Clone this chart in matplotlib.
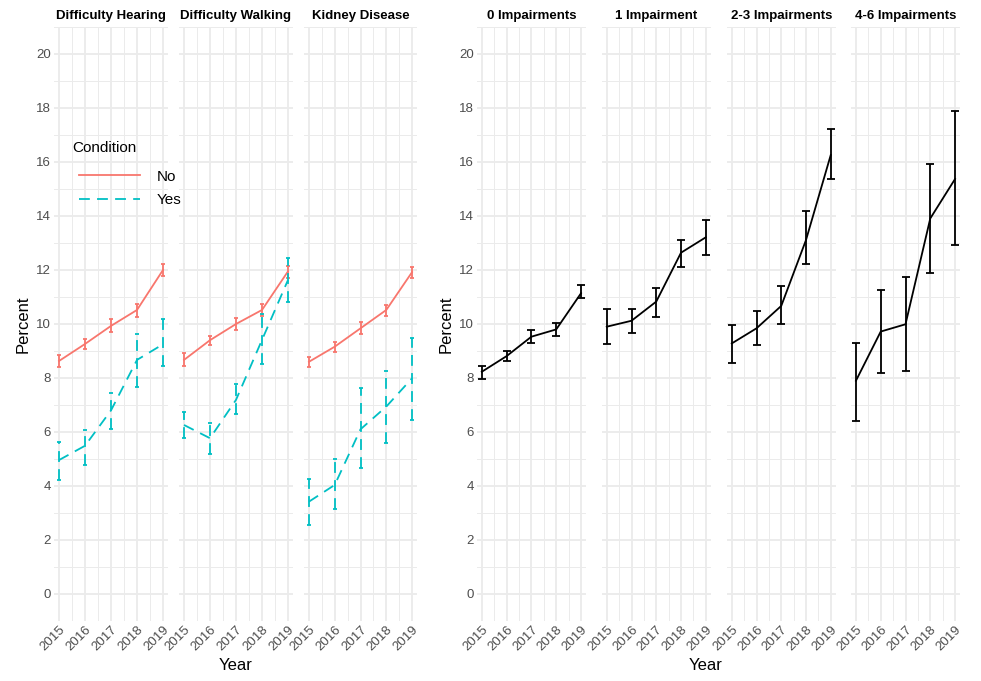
import matplotlib.pyplot as plt
import numpy as np

plt.rcParams['font.family'] = ['Liberation Sans', 'DejaVu Sans']

YEARS = [2015, 2016, 2017, 2018, 2019]

# left panel: condition facets, No / Yes series with CI bounds
COND_TITLES = ["Difficulty Hearing", "Difficulty Walking", "Kidney Disease"]
NO_VAL = [[8.63, 9.26, 9.93, 10.52, 12.0],
          [8.67, 9.40, 10.0, 10.52, 11.95],
          [8.60, 9.16, 9.84, 10.52, 11.92]]
NO_LO = [[8.42, 9.07, 9.72, 10.27, 11.79],
         [8.44, 9.22, 9.78, 10.30, 11.69],
         [8.42, 8.97, 9.63, 10.30, 11.69]]
NO_HI = [[8.85, 9.43, 10.17, 10.74, 12.22],
         [8.91, 9.56, 10.21, 10.74, 12.15],
         [8.79, 9.35, 10.09, 10.70, 12.12]]
YES_VAL = [[4.96, 5.49, 6.80, 8.67, 9.25],
           [6.26, 5.77, 7.19, 9.41, 11.63],
           [3.42, 4.04, 6.10, 6.94, 7.99]]
YES_LO = [[4.22, 4.79, 6.10, 7.68, 8.46],
          [5.77, 5.19, 6.65, 8.51, 10.80],
          [2.56, 3.15, 4.65, 5.60, 6.44]]
YES_HI = [[5.64, 6.07, 7.46, 9.62, 10.17],
          [6.74, 6.35, 7.78, 10.36, 12.43],
          [4.27, 4.99, 7.62, 8.27, 9.47]]

# right panel: number of impairments
IMP_TITLES = ["0 Impairments", "1 Impairment", "2-3 Impairments", "4-6 Impairments"]
IMP_VAL = [[8.23, 8.81, 9.53, 9.80, 11.14],
           [9.90, 10.12, 10.83, 12.64, 13.21],
           [9.28, 9.84, 10.67, 13.11, 16.26],
           [7.90, 9.72, 9.99, 13.91, 15.37]]
IMP_LO = [[7.96, 8.64, 9.28, 9.56, 10.95],
          [9.26, 9.65, 10.27, 12.10, 12.56],
          [8.54, 9.22, 10.00, 12.22, 15.36],
          [6.42, 8.17, 8.27, 11.88, 12.93]]
IMP_HI = [[8.44, 9.00, 9.78, 10.03, 11.44],
          [10.54, 10.54, 11.35, 13.11, 13.85],
          [9.96, 10.49, 11.41, 14.19, 17.22],
          [9.31, 11.26, 11.73, 15.93, 17.90]]

RED = '#F8766D'
TEAL = '#00BFC4'
GRID = '#EBEBEB'
W, H = 981, 681

fig = plt.figure(figsize=(W / 100, H / 100), dpi=100)


def make_ax(x0, x1, y0=27, y1=621):
    return fig.add_axes([x0 / W, 1 - y1 / H, (x1 - x0) / W, (y1 - y0) / H])


def style(ax, title, show_y):
    ax.set_xticks(YEARS)
    ax.set_xticks(np.arange(2015.5, 2019, 1.0), minor=True)
    ax.set_yticks(range(0, 21, 2))
    ax.set_yticks(range(-1, 22, 2), minor=True)
    ax.set_xlim(2014.8, 2019.2)
    ax.set_ylim(-1, 21)
    ax.grid(which='major', color=GRID, linewidth=1.3)
    ax.grid(which='minor', color=GRID, linewidth=0.7)
    ax.set_axisbelow(True)
    for s in ax.spines.values():
        s.set_visible(False)
    ax.tick_params(which='both', length=0, colors='#4D4D4D', labelsize=9.5, pad=2)
    ax.set_xticklabels([str(y) for y in YEARS], rotation=45, ha='right',
                       rotation_mode='anchor')
    if not show_y:
        ax.tick_params(axis='y', labelleft=False)
    ax.set_title(title, fontsize=9.5, fontweight='bold', pad=6)


def errbars(ax, val, lo, hi, color, ls, cap):
    v = np.array(val)
    err = [v - np.array(lo), np.array(hi) - v]
    ax.plot(YEARS, v, color=color, linestyle=ls, linewidth=1.3,
            dashes=(6, 4) if ls == '--' else (None, None))
    eb = ax.errorbar(YEARS, v, yerr=err, fmt='none', ecolor=color,
                     elinewidth=1.3, capsize=cap, capthick=1.3)
    if ls == '--':
        eb[2][0].set_linestyle((0, (6, 4)))
    ax.set_xlim(2014.8, 2019.2)
    ax.set_ylim(-1, 21)


# left facets
left_x = [(53.8, 168.2), (178.8, 293.2), (303.8, 417.2)]
left_axes = []
for i, (x0, x1) in enumerate(left_x):
    ax = make_ax(x0, x1)
    style(ax, COND_TITLES[i], i == 0)
    errbars(ax, NO_VAL[i], NO_LO[i], NO_HI[i], RED, '-', 1.6)
    errbars(ax, YES_VAL[i], YES_LO[i], YES_HI[i], TEAL, '--', 1.6)
    left_axes.append(ax)
left_axes[0].set_ylabel("Percent", fontsize=12, labelpad=4)

# right facets
right_x = [(476.8, 586.0), (601.8, 710.7), (726.8, 835.7), (851.0, 960.0)]
right_axes = []
for i, (x0, x1) in enumerate(right_x):
    ax = make_ax(x0, x1)
    style(ax, IMP_TITLES[i], i == 0)
    errbars(ax, IMP_VAL[i], IMP_LO[i], IMP_HI[i], 'black', '-', 3.2)
    right_axes.append(ax)
right_axes[0].set_ylabel("Percent", fontsize=12, labelpad=4)

fig.text(236 / W, 1 - 666 / H, "Year", fontsize=12, ha='center', va='center')
fig.text(706 / W, 1 - 666 / H, "Year", fontsize=12, ha='center', va='center')

# legend
fig.text(72 / W, 1 - 148 / H, "Condition", fontsize=11, ha='left', va='center')
h_no, = left_axes[0].plot([], [], color=RED, linewidth=1.3)
h_yes, = left_axes[0].plot([], [], color=TEAL, linewidth=1.3, dashes=(6, 4))
fig.legend([h_no, h_yes], ["No", "Yes"],
           loc='upper left', bbox_to_anchor=(65 / W, 1 - 156 / H),
           frameon=False, fontsize=11,
           handlelength=4, handletextpad=1.1, labelspacing=0.6)

fig.savefig("out.png", dpi=100)
